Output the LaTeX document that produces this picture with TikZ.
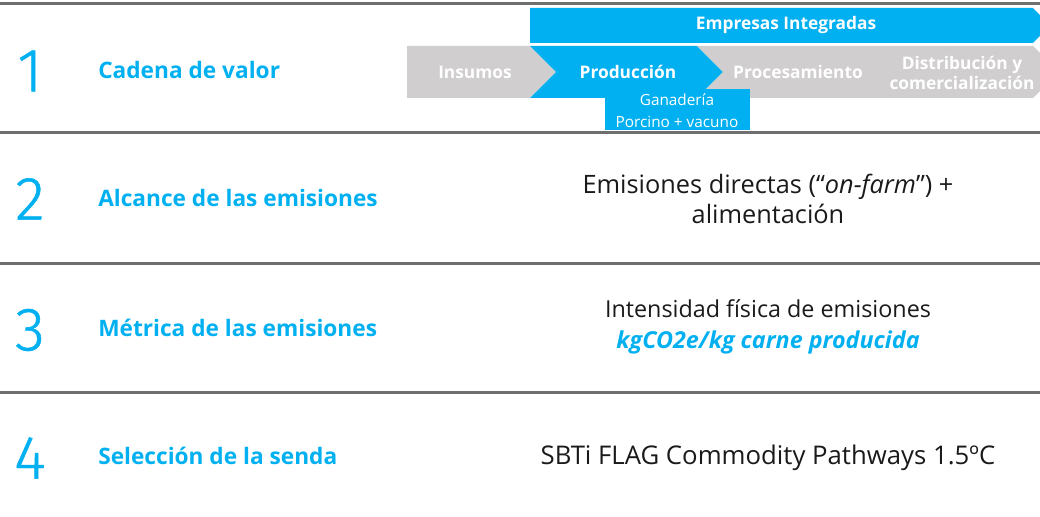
\documentclass[tikz,border=0pt]{standalone}
\usepackage{fontspec}
\setmainfont{Open Sans}
\newfontfamily\numfont{Fira Sans Light}[FakeBold=0.8]
\definecolor{azul}{HTML}{00B0F0}
\definecolor{gris}{HTML}{D0CECE}
\definecolor{linea}{HTML}{6F6F6F}
\definecolor{texto}{HTML}{1A1A1A}
\begin{document}
\begin{tikzpicture}[x=0.75pt,y=-0.75pt,
  sepline/.style={draw=linea, line width=2.25pt},
  numnode/.style={text=azul, font=\numfont\fontsize{46}{46}\selectfont, inner sep=0pt},
  labelnode/.style={text=azul, font=\bfseries\fontsize{17}{17}\selectfont, anchor=west, inner sep=0pt},
  valnode/.style={text=texto, align=center, inner sep=0pt},
  chevnode/.style={text=white, font=\bfseries\fontsize{13}{15}\selectfont, align=center, inner sep=0pt}
]
\useasboundingbox (0,0) rectangle (1040,517);

\draw[sepline] (0,4) -- (1040,4);
\draw[sepline] (0,133) -- (1040,133);
\draw[sepline] (0,263) -- (1040,263);
\draw[sepline] (0,392) -- (1040,392);

\fill[azul] (530,8) -- (1033,8) -- (1050,25.5) -- (1033,43) -- (530,43) -- cycle;
\fill[gris] (407,46) -- (530,46) -- (556,72) -- (530,98) -- (407,98) -- cycle;
\fill[azul] (530,46) -- (697,46) -- (723,72) -- (697,98) -- (530,98) -- (556,72) -- cycle;
\fill[gris] (697,46) -- (1033,46) -- (1059,72) -- (1033,98) -- (697,98) -- (723,72) -- cycle;
\fill[azul] (605,89) rectangle (750,130);

\node[chevnode] (emp) at (786,25) {Empresas Integradas};
\node[chevnode] (ins) at (475,72) {Insumos};
\node[chevnode] (prod) at (628,72) {Producción};
\node[chevnode] (proc) at (798,72) {Procesamiento};
\node[chevnode] (dist) at (962,73) {Distribución y\\comercialización};
\node[chevnode, font=\fontsize{11.5}{16.5}\selectfont] (gan) at (677,111) {Ganadería\\Porcino + vacuno};

\node[numnode] (n1) at (30,71) {1};
\node[numnode] (n2) at (30,199) {2};
\node[numnode] (n3) at (30,330) {3};
\node[numnode] (n4) at (30,458) {4};

\node[labelnode] (l1) at (98,70) {Cadena de valor};
\node[labelnode] (l2) at (98,198) {Alcance de las emisiones};
\node[labelnode] (l3) at (98,328) {Métrica de las emisiones};
\node[labelnode] (l4) at (98,456) {Selección de la senda};

\node[valnode, font=\fontsize{19}{23}\selectfont] (v2) at (768,199) {Emisiones directas (“\textit{on-farm}”) +\\alimentación};
\node[valnode, font=\fontsize{17.5}{23}\selectfont] (v3) at (768,327) {Intensidad física de emisiones\\{\color{azul}\bfseries\itshape kgCO2e/kg carne producida}};
\node[valnode, font=\fontsize{19.3}{19.3}\selectfont] (v4) at (768,458) {SBTi FLAG Commodity Pathways 1.5ºC};

\end{tikzpicture}
\end{document}
